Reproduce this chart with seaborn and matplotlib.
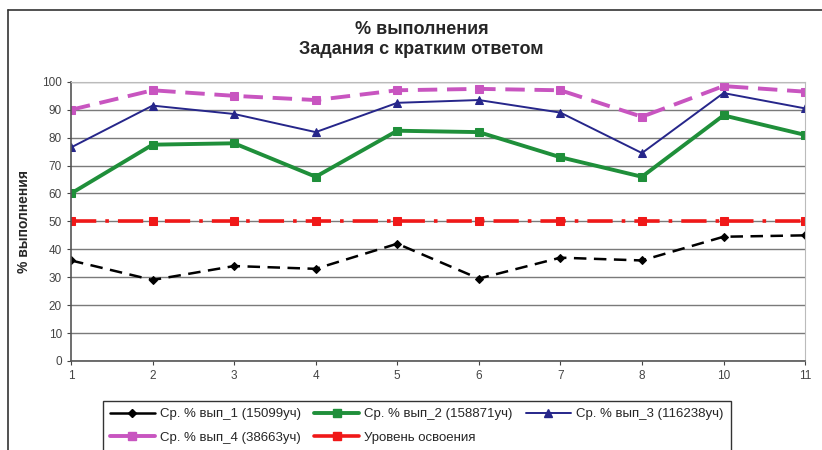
import numpy as np
import pandas as pd
import matplotlib
matplotlib.use("Agg")
import matplotlib.pyplot as plt
import seaborn as sns
from matplotlib.lines import Line2D

sns.set_style("white")
plt.rcParams["font.family"] = ["Liberation Sans", "DejaVu Sans"]

# ---- data ----
tasks = ["1", "2", "3", "4", "5", "6", "7", "8", "10", "11"]
vyp_1 = [36, 29, 34, 33, 42, 29.5, 37, 36, 44.5, 45]
vyp_2 = [60, 77.5, 78, 66, 82.5, 82, 73, 66, 88, 81]
vyp_3 = [76.5, 91.5, 88.5, 82, 92.5, 93.5, 89, 74.5, 96, 90.5]
vyp_4 = [90, 97, 95, 93.5, 97, 97.5, 97, 87.5, 98.5, 96.5]
level = [50, 50, 50, 50, 50, 50, 50, 50, 50, 50]

labels = ["Ср. % вып_1 (15099уч)", "Ср. % вып_2 (158871уч)", "Ср. % вып_3 (116238уч)",
          "Ср. % вып_4 (38663уч)", "Уровень освоения"]

series = [
    (vyp_1, labels[0], "black", (0, (5, 3)), 1.8, "D", 4.5),
    (vyp_2, labels[1], "#1f8f3a", "-", 2.8, "s", 5.5),
    (vyp_3, labels[2], "#26268a", "-", 1.4, "^", 5.5),
    (vyp_4, labels[3], "#c855c0", (0, (5, 2.5)), 2.8, "s", 5.5),
    (level, labels[4], "#f01818", (0, (7, 2.5, 1, 2.5)), 2.6, "s", 5.5),
]

fig = plt.figure(figsize=(8.22, 4.5), dpi=100)
ax = fig.add_axes([0.0864, 0.198, 0.893, 0.62])

pos = np.arange(len(tasks))
handles = []
for vals, lab, col, ls, lw, mk, ms in series:
    sns.lineplot(x=pos, y=vals, ax=ax, color=col, linestyle=ls, linewidth=lw,
                 marker=mk, markersize=ms, markeredgecolor=col, markerfacecolor=col,
                 label=lab, legend=False)
    handles.append(Line2D([], [], color=col, linestyle="-", linewidth=lw,
                          marker=mk, markersize=ms, markeredgecolor=col))

ax.set_xlim(0, len(tasks) - 1)
ax.set_ylim(0, 100)
ax.set_xticks(pos)
ax.set_xticklabels(tasks)
ax.set_yticks(np.arange(0, 101, 10))
ax.tick_params(axis="both", labelsize=8.5, colors="#444444", length=3, direction="out")
ax.tick_params(axis="both", bottom=True, left=True)
ax.yaxis.grid(True, color="#7a7a7a", linewidth=1.0)
ax.set_axisbelow(True)
for side in ["left", "bottom"]:
    ax.spines[side].set_color("#555555")
    ax.spines[side].set_linewidth(1.2)
for side in ["top", "right"]:
    ax.spines[side].set_color("#bbbbbb")
    ax.spines[side].set_linewidth(0.8)

ax.set_ylabel("% выполнения", fontsize=10, fontweight="bold", labelpad=8)
fig.text(0.513, 0.912, "% выполнения\nЗадания с кратким ответом", ha="center", va="center",
         fontsize=13, fontweight="bold", linespacing=1.2)

# legend: row-major order across 3 columns
order = [0, 3, 1, 4, 2]
leg = fig.legend([handles[i] for i in order], [labels[i] for i in order],
                 loc="upper left", bbox_to_anchor=(0.125, 0.109), ncol=3,
                 fontsize=9.5, frameon=True, fancybox=False, edgecolor="black",
                 handlelength=3.4, columnspacing=1.0, handletextpad=0.4,
                 borderpad=0.55, labelspacing=0.85, borderaxespad=0)
leg.get_frame().set_linewidth(1.0)

# outer chart frame (top and left edges visible)
fig.add_artist(Line2D([0.010, 1.0], [0.978, 0.978], color="#333333", linewidth=1.2))
fig.add_artist(Line2D([0.010, 0.010], [0.0, 0.978], color="#333333", linewidth=1.2))

fig.savefig("out.png", dpi=100)
